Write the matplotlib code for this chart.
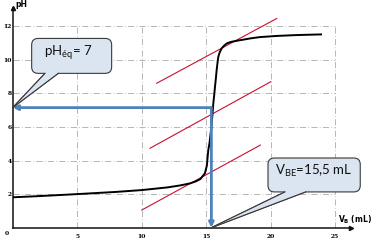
import matplotlib
matplotlib.use("Agg")
import matplotlib.pyplot as plt
from matplotlib.patches import FancyBboxPatch, Polygon

# ---- data ----
vol = [0, 2, 5, 8, 10, 12, 13, 13.75, 14.2, 14.55, 14.9, 15.05, 15.16, 15.25, 15.31,
       15.4, 15.48, 15.55, 15.62, 15.68, 15.75, 15.81, 15.88, 15.94, 16.05, 16.2,
       16.4, 16.59, 16.9, 17.36, 17.9, 18.4, 19.17, 20.5, 22.0, 23.9]
ph = [1.81, 1.88, 2.0, 2.13, 2.24, 2.4, 2.52, 2.64, 2.76, 2.9, 3.24, 3.7, 4.62, 5.0, 5.4,
      6.0, 6.7, 7.4, 7.9, 8.39, 8.9, 9.39, 9.85, 10.18, 10.45, 10.68,
      10.85, 10.97, 11.06, 11.13, 11.2, 11.27, 11.35, 11.42, 11.47, 11.51]

# parallel tangents (x0, x1, pH0, pH1)
tan_x = [[11.16, 20.47], [10.64, 20.0], [10.0, 19.2]]
tan_y = [[8.6, 12.46], [4.73, 8.69], [1.05, 4.92]]

ph_eq = 7.15
v_eq = 15.4

xticks = [5, 10, 15, 20, 25]
yticks = [2, 4, 6, 8, 10, 12]

blue = "#4F81BD"
red = "#c8102e"
fill = "#dbe5f1"
edge = "#3a3a3a"

fig = plt.figure(figsize=(3.77, 2.46), dpi=100)
ax = fig.add_axes([12.7 / 377, 18.3 / 246, 338 / 377, 220 / 246])
ax.set_xlim(0, 26.2)
ax.set_ylim(0, 13.1)

for s in ["top", "right"]:
    ax.spines[s].set_visible(False)
for s in ["left", "bottom"]:
    ax.spines[s].set_linewidth(1.1)
    ax.spines[s].set_color("#111111")
ax.plot(1, 0, ">", color="#111111", ms=3, transform=ax.get_yaxis_transform(), clip_on=False)
ax.plot(0, 1, "^", color="#111111", ms=3, transform=ax.get_xaxis_transform(), clip_on=False)

tickfont = dict(family="DejaVu Serif", weight="bold", size=4.3)
ax.set_xticks(xticks)
ax.set_xticklabels([str(t) for t in xticks], fontdict=tickfont)
ax.set_yticks(yticks)
ax.set_yticklabels([str(t) for t in yticks], fontdict=tickfont)
ax.tick_params(axis="x", length=0, pad=4.2)
ax.tick_params(axis="y", length=0, pad=0.8)
ax.text(-0.42, -0.33, "0", ha="center", va="center", **tickfont)

# grid (dash-dot, scanned look)
for y in yticks:
    ax.plot([0, 25], [y, y], color="#666666", lw=0.55, ls=(0, (8, 3, 1, 3)), alpha=0.6, zorder=1)
for x in xticks:
    ax.plot([x, x], [0, 12], color="#666666", lw=0.55, ls=(0, (8, 3, 1, 3)), alpha=0.6, zorder=1)

ax.text(0.64, 13.32, "pH", ha="center", va="center", fontsize=5.5, fontweight="bold",
        clip_on=False)
ax.text(26.5, 0.46, r"V$_\mathregular{B}$ (mL)", ha="center", va="center", fontsize=5.5,
        fontweight="bold", clip_on=False)

# curve
ax.plot(vol, ph, color="black", lw=1.4, zorder=3)

# tangents
for tx, ty in zip(tan_x, tan_y):
    ax.plot(tx, ty, color=red, lw=0.8, zorder=2)

# equivalence construction
ax.annotate("", xy=(0, ph_eq), xytext=(v_eq, ph_eq),
            arrowprops=dict(arrowstyle="-|>", color=blue, lw=2.0, mutation_scale=7,
                            shrinkA=0, shrinkB=0), zorder=5, annotation_clip=False)
ax.annotate("", xy=(v_eq, 0), xytext=(v_eq, ph_eq),
            arrowprops=dict(arrowstyle="-|>", color=blue, lw=2.0, mutation_scale=7,
                            shrinkA=0, shrinkB=0), zorder=5, annotation_clip=False)


def callout(x0, x1, y0, y1, bl, br, tip, text, tx, ty):
    asp = 12.9 / 16.8
    tri = Polygon([(bl, y0), tip, (br, y0)], closed=True, fc=fill, ec=edge, lw=0.8,
                  clip_on=False, zorder=10)
    ax.add_patch(tri)
    box = FancyBboxPatch((x0, y0), x1 - x0, y1 - y0,
                         boxstyle="round,pad=0,rounding_size=0.5", mutation_aspect=asp,
                         fc=fill, ec=edge, lw=0.8, clip_on=False, zorder=11)
    ax.add_patch(box)
    d = 0.12
    cover = Polygon([(bl + 0.03, y0 + d), (bl + 0.03, y0), tip, (br - 0.03, y0), (br - 0.03, y0 + d)],
                    closed=True, fc=fill, ec="none", clip_on=False, zorder=12)
    ax.add_patch(cover)
    ax.plot([bl, tip[0]], [y0, tip[1]], color=edge, lw=0.8, clip_on=False, zorder=13)
    ax.plot([br, tip[0]], [y0, tip[1]], color=edge, lw=0.8, clip_on=False, zorder=13)
    ax.text(tx, ty, text, ha="center", va="center", fontsize=9.5, family="Lato",
            color="#111111", zorder=14, clip_on=False)


callout(1.47, 7.67, 9.19, 11.27, 2.5, 3.53, (0.0, ph_eq),
        r"pH$_\mathregular{éq}$= 7", 4.29, 10.4)
callout(19.79, 26.94, 2.13, 4.15, 21.1, 22.7, (v_eq, 0.0),
        r"V$_\mathregular{BE}$=15,5 mL", 23.32, 3.375)

fig.savefig("out.png", dpi=100)
